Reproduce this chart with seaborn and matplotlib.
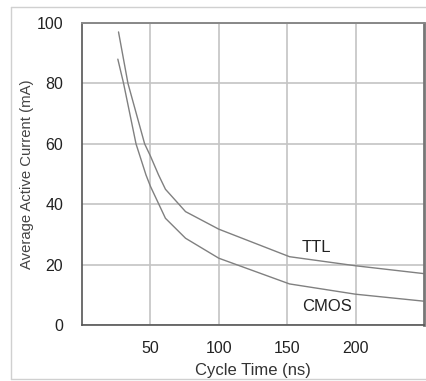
import matplotlib
matplotlib.use("Agg")
import matplotlib.pyplot as plt
import pandas as pd
import seaborn as sns
from matplotlib.lines import Line2D

# values
ttl_x = [26.7, 33.6, 45.8, 50, 56, 61, 75.7, 100, 151.7, 200, 252]
ttl_y = [97, 80, 60, 56, 49.7, 45, 37.6, 31.8, 22.7, 19.7, 17]
cmos_x = [26.2, 30.4, 39.5, 46.8, 50, 61, 75.7, 100, 151.7, 200, 252]
cmos_y = [88, 80, 60, 49.7, 46, 35.4, 28.8, 22.2, 13.7, 10.3, 7.9]

x_ticks = [50, 100, 150, 200]
y_ticks = [0, 20, 40, 60, 80, 100]

sns.set_style("white")
plt.rcParams["font.family"] = ["Liberation Sans", "DejaVu Sans"]

df = pd.concat([
    pd.DataFrame({"cycle": ttl_x, "current": ttl_y, "type": "TTL"}),
    pd.DataFrame({"cycle": cmos_x, "current": cmos_y, "type": "CMOS"}),
])

fig = plt.figure(figsize=(4.27, 3.81), dpi=100)
ax = fig.add_axes([0.192, 0.146, 0.801, 0.794])

# light outer frame (left, top, bottom only)
W, H = 427, 381
frame = dict(color="#d0d0d0", linewidth=1.0, transform=fig.transFigure)
fig.lines.append(Line2D([11 / W, 11 / W], [2 / H, 374 / H], **frame))
fig.lines.append(Line2D([11 / W, 1], [374 / H, 374 / H], **frame))
fig.lines.append(Line2D([11 / W, 1], [2 / H, 2 / H], **frame))

sns.lineplot(data=df, x="cycle", y="current", hue="type", units="type", estimator=None,
             sort=False, palette={"TTL": "#808080", "CMOS": "#808080"}, linewidth=1.0,
             legend=False, ax=ax)

ax.set_xlim(0, 250)
ax.set_ylim(0, 100)
ax.set_xticks(x_ticks)
ax.set_yticks(y_ticks)
ax.grid(True, color="#c4c4c4", linewidth=1.2)
ax.set_axisbelow(True)
ax.tick_params(length=0, labelsize=11.5, labelcolor="#222222")
ax.tick_params(axis="y", pad=13.5)
ax.tick_params(axis="x", pad=11.5)

for side in ["left", "bottom"]:
    ax.spines[side].set_color("#555555")
    ax.spines[side].set_linewidth(1.2)
ax.spines["top"].set_color("#888888")
ax.spines["top"].set_linewidth(1.4)
ax.spines["right"].set_color("#777777")
ax.spines["right"].set_linewidth(2.0)

ax.set_xlabel("Cycle Time (ns)", fontsize=12, color="#333333", labelpad=5)
ax.set_ylabel("Average Active Current (mA)", fontsize=10.7, color="#444444", labelpad=2)

ax.text(171, 25.6, "TTL", ha="center", va="center", fontsize=12, color="#222222")
ax.text(179, 6.2, "CMOS", ha="center", va="center", fontsize=12, color="#222222")

fig.savefig("out.png", dpi=100)
